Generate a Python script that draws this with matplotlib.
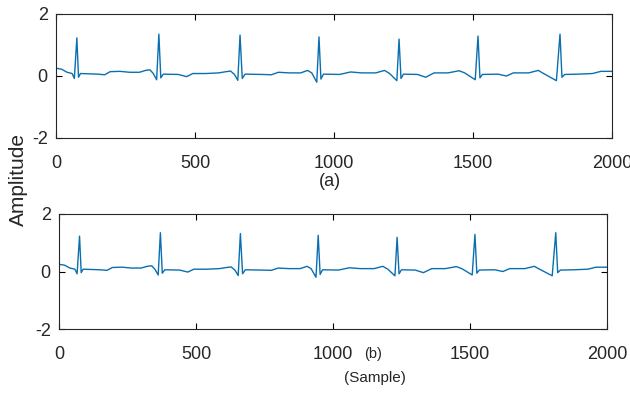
import matplotlib.pyplot as plt
import numpy as np

plt.rcParams['font.family'] = ['Liberation Sans', 'DejaVu Sans']
plt.rcParams['axes.unicode_minus'] = False

# ECG trace vertices (sample, amplitude)
samples = [0, 20, 40, 58, 66, 75, 81, 88, 150, 175, 195, 230, 265, 300, 322, 338, 350,
           362, 370, 377, 386, 440, 470, 492, 540, 585, 612, 628, 642, 654, 662, 670,
           680, 740, 775, 800, 840, 880, 905, 920, 938, 946, 953, 962, 1020, 1060,
           1100, 1150, 1182, 1200, 1226, 1234, 1241, 1250, 1300, 1330, 1360, 1410,
           1450, 1470, 1508, 1518, 1525, 1534, 1590, 1620, 1645, 1700, 1735, 1750,
           1800, 1813, 1820, 1830, 1880, 1930, 1960, 2000]
amplitude = [0.25, 0.22, 0.12, 0.08, -0.08, 1.23, -0.04, 0.08, 0.06, 0.04, 0.14, 0.15,
             0.12, 0.12, 0.18, 0.2, 0.08, -0.12, 1.35, -0.06, 0.06, 0.05, -0.02, 0.08,
             0.08, 0.1, 0.14, 0.16, 0.05, -0.14, 1.32, -0.08, 0.06, 0.05, 0.04, 0.12,
             0.1, 0.1, 0.18, 0.1, -0.2, 1.26, -0.1, 0.06, 0.05, 0.13, 0.1, 0.1, 0.18,
             0.08, -0.15, 1.19, -0.08, 0.06, 0.05, -0.04, 0.1, 0.1, 0.17, 0.1, -0.12,
             1.29, -0.06, 0.05, 0.06, 0.0, 0.1, 0.1, 0.18, 0.1, -0.15, 1.35, -0.04,
             0.05, 0.06, 0.08, 0.15, 0.15]

x_ticks = [0, 500, 1000, 1500, 2000]
y_ticks = [-2, 0, 2]

fig = plt.figure(figsize=(6.3, 3.93), dpi=100)
ax1 = fig.add_axes([56/630, 1-138/393, 556/630, 124/393])
ax2 = fig.add_axes([59/630, 1-329/393, 548/630, 115/393])

for ax in (ax1, ax2):
    ax.plot(samples, amplitude, color='#0A6FB0', linewidth=1.0)
    ax.set_xlim(0, 2000)
    ax.set_ylim(-2, 2)
    ax.set_xticks(x_ticks)
    ax.set_yticks(y_ticks)
    ax.tick_params(direction='in', top=True, right=True, labelsize=13,
                   labelcolor='#262626', length=4)
    ax.tick_params(axis='x', pad=12)
    ax.tick_params(axis='y', pad=6)
    for s in ax.spines.values():
        s.set_color('#262626')

fig.text(18/630, 1-180/393, 'Amplitude', rotation=90, ha='center', va='center',
         fontsize=15, color='#262626')
fig.text(330/630, 1-182/393, '(a)', ha='center', va='center', fontsize=13, color='#262626')
fig.text(373/630, 1-354/393, '(b)', ha='center', va='center', fontsize=10.5, color='#262626')
fig.text(375/630, 1-378/393, '(Sample)', ha='center', va='center', fontsize=11, color='#262626')

fig.savefig('out.png', dpi=100)
